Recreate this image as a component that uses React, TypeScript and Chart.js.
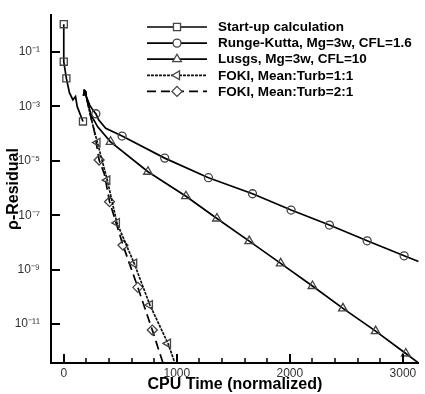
import React, { useEffect, useRef } from 'react';
import { Chart, registerables } from 'chart.js';
import { drawPoint } from 'chart.js/helpers';
Chart.register(...registerables);

const FONT = '"Liberation Sans", Arial, Helvetica, sans-serif';

const seriesLabels = [
  'Start-up calculation',
  'Runge-Kutta, Mg=3w, CFL=1.6',
  'Lusgs, Mg=3w, CFL=10',
  'FOKI, Mean:Turb=1:1',
  'FOKI, Mean:Turb=2:1',
];

// Start-up calculation
const startupX = [0, 0, 23, 50, 81, 104, 119, 170];
const startupY = [1.05, 4.4e-2, 1.07e-2, 3.2e-3, 1.74e-3, 2.3e-3, 9.8e-4, 2.8e-4];
const startupMarks = [0, 1, 2, 7];

// Runge-Kutta
const rkX = [175, 183, 192, 200, 230, 260, 284, 310, 371, 516, 893, 1280, 1670, 2011, 2350, 2684, 3011, 3139];
const rkY = [2.51e-3, 3.8e-3, 3.55e-3, 2.24e-3, 1.12e-3, 7.08e-4, 5.37e-4, 3.16e-4, 1.58e-4, 8.13e-5, 1.26e-5, 2.4e-6, 6.17e-7, 1.55e-7, 4.37e-8, 1.15e-8, 3.24e-9, 2.0e-9];
const rkMarks = [6, 9, 10, 11, 12, 13, 14, 15, 16];

// Lusgs
const luX = [175, 183, 192, 200, 240, 300, 414, 745, 1081, 1355, 1641, 1919, 2200, 2470, 2759, 3026, 3139];
const luY = [2.51e-3, 3.8e-3, 3.55e-3, 2.24e-3, 5.01e-4, 1.78e-4, 5.01e-5, 3.98e-6, 5.01e-7, 7.59e-8, 1.12e-8, 1.7e-9, 2.51e-10, 3.8e-11, 5.5e-12, 8.32e-13, 3.72e-13];
const luMarks = [6, 7, 8, 9, 10, 11, 12, 13, 14, 15];

// FOKI 1:1
const f1X = [175, 183, 192, 200, 240, 270, 298, 340, 385, 470, 623, 762, 922, 983];
const f1Y = [2.51e-3, 3.8e-3, 3.55e-3, 2.24e-3, 3.98e-4, 1.26e-4, 4.68e-5, 1.0e-5, 1.95e-6, 5.25e-8, 1.7e-9, 5.01e-11, 1.95e-12, 3.72e-13];
const f1Marks = [6, 8, 9, 10, 11, 12];

// FOKI 2:1
const f2X = [175, 183, 192, 200, 240, 270, 313, 360, 405, 524, 655, 783, 878];
const f2Y = [2.51e-3, 3.8e-3, 3.55e-3, 2.24e-3, 3.98e-4, 1.26e-4, 1.07e-5, 3.16e-6, 3.16e-7, 7.94e-9, 2.24e-10, 6.03e-12, 3.72e-13];
const f2Marks = [6, 8, 9, 10, 11];

const xTickValues = [0, 1000, 2000, 3000];
const xMinorTicks = [200, 400, 600, 800, 1200, 1400, 1600, 1800, 2200, 2400, 2600, 2800];
const yTickValues = [1e-1, 1e-3, 1e-5, 1e-7, 1e-9, 1e-11];
const yTickLabels = ['10⁻¹', '10⁻³', '10⁻⁵', '10⁻⁷', '10⁻⁹', '10⁻¹¹'];

const X_MIN = -113;
const X_MAX = 3140;
const Y_MIN = 3.72e-13;
const Y_MAX = 2.29;

const toPts = (xs: number[], ys: number[]) => xs.map((x, i) => ({ x, y: ys[i] }));

const styles = [
  { pointStyle: 'rect', radius: 5, dash: [] as number[], rot: 0, color: '#000' },
  { pointStyle: 'circle', radius: 4, dash: [] as number[], rot: 0, color: '#000' },
  { pointStyle: 'triangle', radius: 5, dash: [] as number[], rot: 0, color: '#000' },
  { pointStyle: 'triangle', radius: 5, dash: [3, 1], rot: -90, color: '#111' },
  { pointStyle: 'rectRot', radius: 5, dash: [9, 5], rot: 0, color: '#000' },
];

const tickPlugin = {
  id: 'innerTicks',
  afterDraw(chart: any) {
    const { ctx, chartArea } = chart;
    const xs = chart.scales.x;
    const ys = chart.scales.y;
    ctx.save();
    ctx.strokeStyle = '#000';
    ctx.lineWidth = 2;
    ctx.beginPath();
    yTickValues.forEach((v) => {
      const py = Math.round(ys.getPixelForValue(v));
      ctx.moveTo(chartArea.left, py);
      ctx.lineTo(chartArea.left + 9, py);
    });
    xTickValues.forEach((v) => {
      const px = Math.round(xs.getPixelForValue(v));
      ctx.moveTo(px, chartArea.bottom);
      ctx.lineTo(px, chartArea.bottom - 9);
    });
    ctx.stroke();
    ctx.lineWidth = 1.5;
    ctx.beginPath();
    xMinorTicks.forEach((v) => {
      const px = Math.round(xs.getPixelForValue(v));
      ctx.moveTo(px, chartArea.bottom);
      ctx.lineTo(px, chartArea.bottom - 5);
    });
    ctx.stroke();
    ctx.restore();
  },
};

const legendPlugin = {
  id: 'customLegend',
  afterDraw(chart: any) {
    const { ctx } = chart;
    const x0 = 147;
    const x1 = 207;
    const xm = 177;
    const tx = 218;
    ctx.save();
    chart.data.datasets.forEach((ds: any, i: number) => {
      const y = 27 + i * 16.1;
      const st = styles[i];
      ctx.strokeStyle = ds.borderColor;
      ctx.lineWidth = ds.borderWidth;
      ctx.setLineDash(st.dash);
      ctx.beginPath();
      ctx.moveTo(x0, y);
      ctx.lineTo(x1, y);
      ctx.stroke();
      ctx.setLineDash([]);
      ctx.fillStyle = '#fff';
      ctx.strokeStyle = '#444';
      ctx.lineWidth = 1.3;
      drawPoint(ctx, { pointStyle: st.pointStyle, rotation: st.rot, radius: st.radius, borderWidth: 1.3 }, xm, y);
      ctx.fillStyle = '#000';
      ctx.font = `bold 13.5px ${FONT}`;
      ctx.textAlign = 'left';
      ctx.textBaseline = 'middle';
      ctx.fillText(ds.label, tx, y + 0.5);
    });
    ctx.restore();
  },
};

export default function App() {
  const ref = useRef<HTMLCanvasElement>(null);
  useEffect(() => {
    if (!ref.current) return;
    const sets = [
      [startupX, startupY, startupMarks],
      [rkX, rkY, rkMarks],
      [luX, luY, luMarks],
      [f1X, f1Y, f1Marks],
      [f2X, f2Y, f2Marks],
    ] as [number[], number[], number[]][];
    const chart = new Chart(ref.current, {
      type: 'line',
      data: {
        datasets: sets.map(([xs, ys, marks], i) => ({
          label: seriesLabels[i],
          data: toPts(xs, ys),
          borderColor: styles[i].color,
          borderWidth: 1.7,
          borderDash: styles[i].dash,
          pointStyle: styles[i].pointStyle as any,
          rotation: styles[i].rot,
          pointRotation: styles[i].rot,
          pointRadius: (c: any) => (marks.includes(c.dataIndex) ? styles[i].radius : 0),
          pointHoverRadius: 0,
          pointBorderColor: '#444',
          pointBorderWidth: 1.3,
          pointBackgroundColor: 'rgba(255,255,255,0)',
          tension: 0,
          fill: false,
        })),
      },
      options: {
        animation: false,
        responsive: true,
        maintainAspectRatio: false,
        events: [],
        layout: { padding: { top: 15, right: 0, left: 0, bottom: 0 } },
        plugins: { legend: { display: false }, tooltip: { enabled: false } },
        scales: {
          x: {
            type: 'linear',
            min: X_MIN,
            max: X_MAX,
            grid: { display: false, drawTicks: false },
            border: { display: true, color: '#000', width: 2 },
            ticks: {
              color: '#333',
              font: { size: 12, family: FONT },
              padding: 3,
              maxRotation: 0,
              autoSkip: false,
              callback: (v: any) => String(v),
            },
            afterBuildTicks: (s: any) => {
              s.ticks = xTickValues.map((v) => ({ value: v }));
            },
            afterFit: (s: any) => {
              s.height = 31;
              s.paddingLeft = 0;
              s.paddingRight = 0;
            },
            title: {
              display: true,
              text: 'CPU Time (normalized)',
              color: '#000',
              font: { size: 16, weight: 'bold', family: FONT },
              padding: { top: 0, bottom: 0 },
            },
          },
          y: {
            type: 'logarithmic',
            min: Y_MIN,
            max: Y_MAX,
            grid: { display: false, drawTicks: false },
            border: { display: true, color: '#000', width: 2 },
            ticks: {
              color: '#333',
              font: { size: 12, family: FONT },
              padding: 11,
              autoSkip: false,
              callback: (v: any) => {
                const idx = yTickValues.findIndex((t) => Math.abs(Math.log10(t) - Math.log10(v)) < 1e-6);
                return idx >= 0 ? yTickLabels[idx] : '';
              },
            },
            afterBuildTicks: (s: any) => {
              s.ticks = yTickValues.map((v) => ({ value: v }));
            },
            afterFit: (s: any) => {
              s.width = 51;
              s.paddingTop = 0;
              s.paddingBottom = 0;
            },
            title: {
              display: true,
              text: 'ρ-Residual',
              color: '#000',
              font: { size: 16, weight: 'bold', family: FONT },
              padding: { top: 4, bottom: 0 },
            },
          },
        },
      },
      plugins: [tickPlugin, legendPlugin],
    });
    return () => chart.destroy();
  }, []);
  return (
    <div style={{ position: 'absolute', left: 0, top: 0, width: 425, height: 394, background: '#fff' }}>
      <canvas ref={ref} />
    </div>
  );
}
